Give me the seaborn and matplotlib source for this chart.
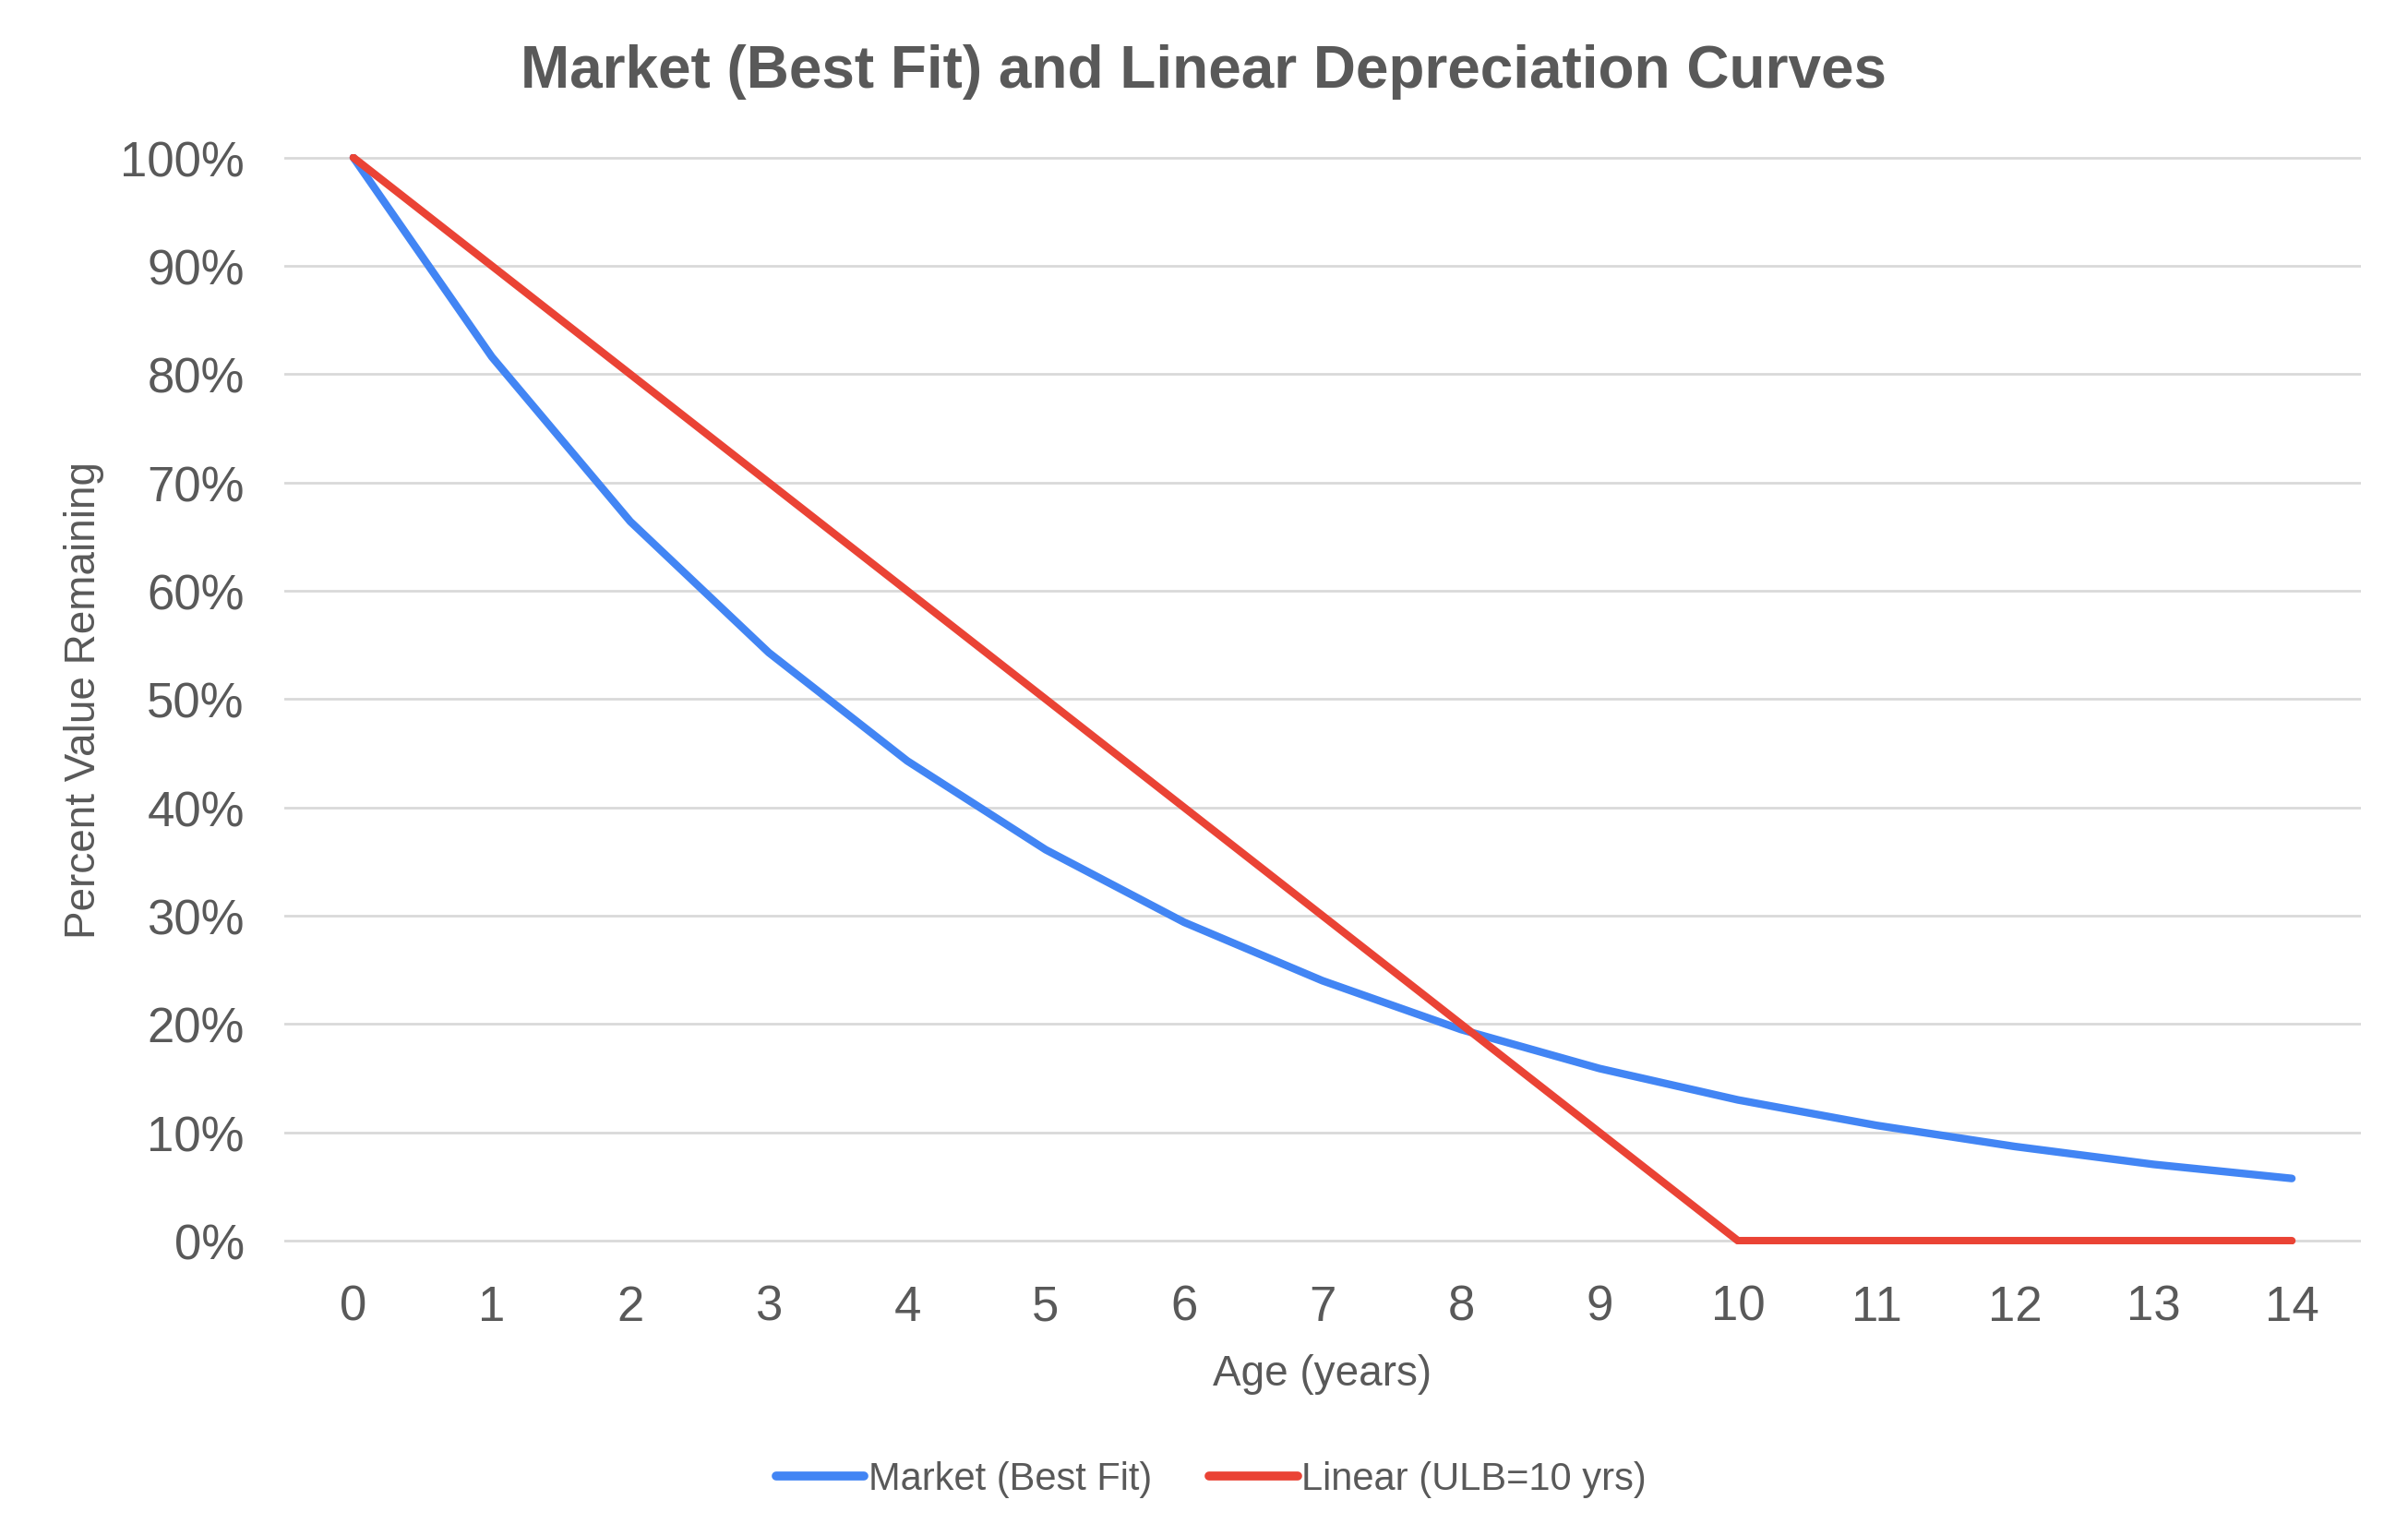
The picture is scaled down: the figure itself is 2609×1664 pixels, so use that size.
import pandas as pd
import numpy as np
import matplotlib.pyplot as plt
import seaborn as sns

# Values
age = list(range(15))
market_fit = [100, 81.6, 66.4, 54.3, 44.3, 36.1, 29.4, 24.0, 19.5, 15.9,
              13.0, 10.65, 8.7, 7.05, 5.75]
linear_ulb10 = [100, 90, 80, 70, 60, 50, 40, 30, 20, 10, 0, 0, 0, 0, 0]
series_names = ['Market (Best Fit)', 'Linear (ULB=10 yrs)']
colors = ['#4285F4', '#EA4335']
y_ticks = [0, 10, 20, 30, 40, 50, 60, 70, 80, 90, 100]

df = pd.DataFrame({
    'Age': age * 2,
    'Value': market_fit + linear_ulb10,
    'Series': [series_names[0]] * len(age) + [series_names[1]] * len(age),
})

sns.set_theme(style="white")
plt.rcParams['font.family'] = ['Liberation Sans', 'DejaVu Sans']
text_color = '#595959'

fig = plt.figure(figsize=(26.09, 16.65), dpi=100)
ax = fig.add_axes([0.118, 0.190, 0.8625, 0.709])

sns.lineplot(data=df, x='Age', y='Value', hue='Series', palette=colors,
             linewidth=6, ax=ax, legend=False, solid_capstyle='round')

ax.set_xlim(-0.5, 14.5)
ax.set_xticks(age)
ax.set_xticklabels([str(a) for a in age])
ax.set_yticks(y_ticks)
ax.set_yticklabels([f'{t}%' for t in y_ticks])
ax.yaxis.grid(True, color='#D9D9D9', linewidth=2)
ax.xaxis.grid(False)
ax.set_axisbelow(True)
for s in ax.spines.values():
    s.set_visible(False)
ax.tick_params(axis='both', length=0, labelsize=38, labelcolor=text_color)
ax.tick_params(axis='y', pad=31)
ax.tick_params(axis='x', pad=31)
ax.set_ylim(-0.3, 100.3)

ax.set_xlabel('Age (years)', fontsize=33, color=text_color, labelpad=18)
ax.set_ylabel('Percent Value Remaining', fontsize=33, color=text_color, labelpad=12)
fig.suptitle('Market (Best Fit) and Linear Depreciation Curves', fontsize=46,
             fontweight='bold', color=text_color, x=0.5, y=0.971)

handles = [plt.Line2D([0], [0], color=c, linewidth=7, solid_capstyle='round') for c in colors]
fig.legend(handles, series_names, loc='center', bbox_to_anchor=(0.503, 0.037),
           ncol=2, frameon=False, fontsize=30, handlelength=2.3, handletextpad=0.1,
           columnspacing=1.5, labelcolor=text_color)

fig.savefig('out.png', dpi=100, facecolor='white')
